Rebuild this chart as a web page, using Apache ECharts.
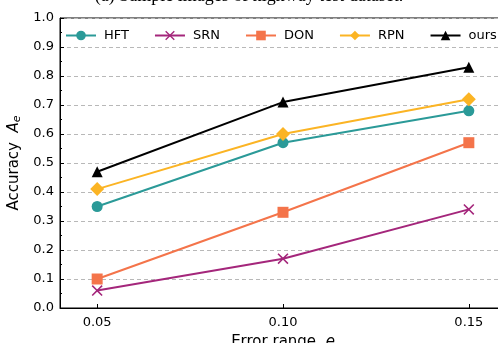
<!DOCTYPE html>
<html><head><meta charset="utf-8">
<script src="https://cdn.jsdelivr.net/npm/echarts@6/dist/echarts.min.js"></script>
<style>html,body{margin:0;padding:0;background:#fff}#c{width:498px;height:343px}</style>
</head><body><div id="c"></div>
<script>
const xValues = [0.05, 0.10, 0.15];
const xTickLabels = ['0.05', '0.10', '0.15'];
const hft = [0.35, 0.57, 0.68];
const srn = [0.06, 0.17, 0.34];
const don = [0.10, 0.33, 0.57];
const rpn = [0.41, 0.60, 0.72];
const ours = [0.47, 0.71, 0.83];
const seriesNames = ['HFT', 'SRN', 'DON', 'RPN', 'ours'];

const xSym = 'path://M0,1 L1,0 L5,4 L9,0 L10,1 L6,5 L10,9 L9,10 L5,6 L1,10 L0,9 L4,5 Z';
const defs = [
  {name: 'HFT', data: hft, color: '#2b9a98', symbol: 'circle', size: 11},
  {name: 'SRN', data: srn, color: '#a4267b', symbol: xSym, size: 11},
  {name: 'DON', data: don, color: '#f4744a', symbol: 'rect', size: 11},
  {name: 'RPN', data: rpn, color: '#fbb424', symbol: 'diamond', size: 14},
  {name: 'ours', data: ours, color: '#000000', symbol: 'triangle', size: 11}
];
const font = 'DejaVu Sans';
const chart = echarts.init(document.getElementById('c'));
chart.setOption({
  animation: false,
  textStyle: {fontFamily: font},
  graphic: [{
    type: 'text', left: 'center', top: -13,
    style: {text: '(a) Sample images of highway test dataset.', font: '18px "Liberation Serif"', fill: '#000'}
  }],
  legend: {
    data: seriesNames, left: 60, top: 24, width: 800, itemWidth: 30, itemHeight: 12, itemGap: 25,
    textStyle: {fontSize: 13, color: '#000', fontFamily: font, padding: [0, 0, 0, 3]}
  },
  grid: {left: 60, right: -8, top: 18, bottom: 35, outerBoundsMode: 'none', containLabel: false,
    show: true, borderColor: '#000', borderWidth: 1},
  xAxis: {
    type: 'value', min: 0.04, max: 0.16,
    name: 'Error range  {i|e}', nameLocation: 'middle', nameGap: 27,
    nameTextStyle: {fontSize: 15, color: '#000', rich: {i: {fontStyle: 'italic', fontSize: 15}}},
    axisLine: {show: true, lineStyle: {color: '#000', width: 1}},
    axisTick: {show: true, inside: true, length: 4, customValues: xValues, lineStyle: {color: '#000'}},
    axisLabel: {customValues: xValues, fontSize: 13, color: '#000', margin: 8,
      formatter: v => xTickLabels[xValues.findIndex(x => Math.abs(x - v) < 1e-9)]},
    splitLine: {show: false}
  },
  yAxis: {
    type: 'value', min: 0, max: 1, interval: 0.1,
    name: 'Accuracy  {i|A}{s|e}', nameLocation: 'middle', nameGap: 35,
    nameTextStyle: {fontSize: 15, color: '#000', rich: {i: {fontStyle: 'italic', fontSize: 15}, s: {fontStyle: 'italic', fontSize: 11, padding: [6, 0, 0, 0]}}},
    axisLine: {show: true, lineStyle: {color: '#000', width: 1}},
    axisTick: {show: true, inside: true, length: 4, lineStyle: {color: '#000'}},
    minorTick: {show: true, splitNumber: 2, length: 2, lineStyle: {color: '#000'}},
    axisLabel: {fontSize: 13, color: '#000', margin: 6, formatter: v => v.toFixed(1)},
    splitLine: {show: true, lineStyle: {color: '#b8b8b8', type: [4, 3], width: 1}}
  },
  series: defs.map(d => ({
    name: d.name, type: 'line',
    data: xValues.map((x, i) => [x, d.data[i]]),
    symbol: d.symbol, symbolSize: d.size, showSymbol: true,
    itemStyle: {color: d.color, borderWidth: 0},
    lineStyle: {color: d.color, width: 2}
  }))
});
</script></body></html>
